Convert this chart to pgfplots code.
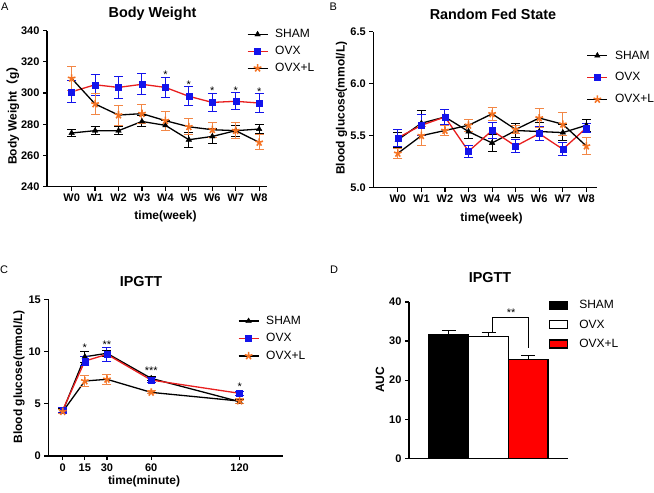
\documentclass[border=0pt]{standalone}
\usepackage{pgfplots}
\pgfplotsset{compat=1.18}
\usepackage{fontspec}
\setmainfont{Liberation Sans}
\newfontfamily\cjk{Noto Sans CJK SC}
\definecolor{cblue}{RGB}{20,20,235}
\definecolor{cred}{RGB}{232,30,30}
\definecolor{corange}{RGB}{245,115,35}
\definecolor{corangeb}{RGB}{242,135,70}
\pgfplotsset{
  panel/.style={
    scale only axis, anchor=south west,
    axis x line=bottom, axis y line=left,
    axis line style={line width=1.4pt,-},
    tick align=outside, major tick length=4pt,
    tick style={line width=1.2pt,black},
    tick label style={font=\fontsize{11}{13}\selectfont\bfseries},
    /pgf/number format/assume math mode=true,
    clip=false,
    legend cell align=left,
    legend image code/.code={\draw[mark repeat=2,mark phase=2,##1] plot coordinates {(0pt,0pt) (10pt,0pt) (20pt,0pt)};},
  },
  sham/.style={black, line width=1.3pt, mark=triangle*, mark size=3.2pt, mark options={solid,fill=black,line width=0.4pt},
    error bars/.cd, y dir=both, y explicit, error bar style={black,line width=1pt}, error mark options={rotate=90,black,mark size=4.5pt,line width=1pt}},
  ovx/.style={cred, line width=1.3pt, mark=square*, mark size=3pt, mark options={solid,draw=cblue,fill=cblue,line width=0.4pt},
    error bars/.cd, y dir=both, y explicit, error bar style={cblue,line width=1pt}, error mark options={rotate=90,cblue,mark size=4.5pt,line width=1pt}},
  ovxl/.style={black, line width=1.3pt, mark=star, mark size=4pt, mark options={solid,draw=corange,fill=corange,line width=1.6pt},
    error bars/.cd, y dir=both, y explicit, error bar style={corangeb,line width=1pt}, error mark options={rotate=90,corangeb,mark size=4.5pt,line width=1pt}},
}
\begin{document}
\begin{tikzpicture}[x=1pt,y=1pt]
\useasboundingbox (0,0) rectangle (654,493);
% ---------- Panel A ----------
\begin{axis}[panel, at={(47pt,306.3pt)}, width=219.7pt, height=156.1pt,
  xmin=-1.05, xmax=8.32, ymin=240, ymax=340, ytick={240,260,...,340},
  xtick={0,...,8}, xticklabels={W0,W1,W2,W3,W4,W5,W6,W7,W8},
  legend style={at={(axis description cs:0.910,1.020)}, anchor=north west, draw=none, fill=none,
    inner sep=0pt, outer sep=0pt, row sep=3pt, column sep=5pt, font=\fontsize{12}{14}\selectfont}]
\addplot[sham] table[row sep=\\, y error=e]{x y e\\ 0 274.4 2.5\\ 1 275.9 2.5\\ 2 275.9 2.5\\ 3 281.8 3.5\\ 4 279.3 3.2\\ 5 270.1 4.8\\ 6 272.2 4.8\\ 7 275.9 3.5\\ 8 276.9 2.9\\};
\addplot[ovx] table[row sep=\\, y error=e]{x y e\\ 0 300.8 7\\ 1 305.3 6.8\\ 2 303.6 7\\ 3 305.6 6.8\\ 4 303.6 6.4\\ 5 297.9 6.2\\ 6 294.0 5.8\\ 7 294.7 5.5\\ 8 293.6 5.9\\};
\addplot[ovxl] table[row sep=\\, y error=e]{x y e\\ 0 309.4 7.5\\ 1 293.0 7\\ 2 285.9 6.4\\ 3 286.8 6\\ 4 282.3 6\\ 5 278.4 5.2\\ 6 276.5 4.8\\ 7 275.9 5\\ 8 268.4 4.8\\};
\legend{SHAM,OVX,OVX+L}
\node[font=\fontsize{11}{13}\selectfont] at (axis cs:4,311.5) {*};
\node[font=\fontsize{11}{13}\selectfont] at (axis cs:5,305.5) {*};
\node[font=\fontsize{11}{13}\selectfont] at (axis cs:6,301.2) {*};
\node[font=\fontsize{11}{13}\selectfont] at (axis cs:7,301.2) {*};
\node[font=\fontsize{11}{13}\selectfont] at (axis cs:8,300.8) {*};
\end{axis}
% ---------- Panel B ----------
\begin{axis}[panel, at={(373.3pt,305.3pt)}, width=223.7pt, height=156pt,
  xmin=-1.04, xmax=8.45, ymin=5.0, ymax=6.5, ytick={5.0,5.5,6.0,6.5},
  yticklabel style={/pgf/number format/.cd,fixed,fixed zerofill,precision=1},
  xtick={0,...,8}, xticklabels={W0,W1,W2,W3,W4,W5,W6,W7,W8},
  legend style={at={(axis description cs:0.954,0.891)}, anchor=north west, draw=none, fill=none,
    inner sep=0pt, outer sep=0pt, row sep=8pt, column sep=5pt, font=\fontsize{12}{14}\selectfont}]
\addplot[sham] table[row sep=\\, y error=e]{x y e\\ 0 5.46 0.07\\ 1 5.62 0.12\\ 2 5.68 0.07\\ 3 5.54 0.07\\ 4 5.43 0.08\\ 5 5.55 0.07\\ 6 5.54 0.09\\ 7 5.53 0.08\\ 8 5.60 0.06\\};
\addplot[ovx] table[row sep=\\, y error=e]{x y e\\ 0 5.48 0.08\\ 1 5.60 0.10\\ 2 5.68 0.07\\ 3 5.35 0.06\\ 4 5.55 0.08\\ 5 5.40 0.065\\ 6 5.52 0.07\\ 7 5.37 0.06\\ 8 5.575 0.045\\};
\addplot[ovxl] table[row sep=\\, y error=e]{x y e\\ 0 5.33 0.05\\ 1 5.50 0.09\\ 2 5.55 0.05\\ 3 5.60 0.06\\ 4 5.71 0.06\\ 5 5.56 0.04\\ 6 5.67 0.09\\ 7 5.61 0.11\\ 8 5.40 0.08\\};
\legend{SHAM,OVX,OVX+L}
\end{axis}
% ---------- Panel C ----------
\begin{axis}[panel, at={(48.3pt,37pt)}, width=235pt, height=156.7pt,
  xmin=-9.8, xmax=149.6, ymin=0, ymax=15, ytick={0,5,10,15},
  xtick={0,15,30,60,120},
  legend style={at={(axis description cs:0.807,0.905)}, anchor=north west, draw=none, fill=none,
    inner sep=0pt, outer sep=0pt, row sep=3.5pt, column sep=5pt, font=\fontsize{12}{14}\selectfont}]
\addplot[sham] table[row sep=\\, y error=e]{x y e\\ 0 4.3 0.2\\ 15 9.5 0.55\\ 30 9.83 0.3\\ 60 7.43 0.2\\ 120 5.2 0.2\\};
\addplot[ovx] table[row sep=\\, y error=e]{x y e\\ 0 4.4 0.2\\ 15 9.09 0.45\\ 30 9.73 0.64\\ 60 7.27 0.2\\ 120 6.0 0.2\\};
\addplot[ovxl] table[row sep=\\, y error=e]{x y e\\ 0 4.25 0.2\\ 15 7.18 0.5\\ 30 7.34 0.46\\ 60 6.09 0.15\\ 120 5.26 0.2\\};
\legend{SHAM,OVX,OVX+L}
\node[font=\fontsize{11}{13}\selectfont] at (axis cs:15,10.4) {*};
\node[font=\fontsize{11}{13}\selectfont] at (axis cs:30,10.7) {**};
\node[font=\fontsize{11}{13}\selectfont] at (axis cs:60,8.2) {***};
\node[font=\fontsize{11}{13}\selectfont] at (axis cs:120,6.6) {*};
\end{axis}
% ---------- Panel D ----------
\begin{axis}[panel, at={(409pt,34.7pt)}, width=159pt, height=156.3pt,
  xmin=0, xmax=4, ymin=0, ymax=40, ytick={0,10,20,30,40}, xtick=\empty,
  ybar, bar width=1, bar shift=0pt,
  legend image code/.code={\draw[#1,line width=1.2pt] (0pt,-4pt) rectangle (18pt,4pt);},
  legend style={at={(axis description cs:0.881,1.024)}, anchor=north west, draw=none, fill=none,
    inner sep=0pt, outer sep=0pt, row sep=5.5pt, column sep=9pt, font=\fontsize{12}{14}\selectfont}]
\addplot[draw=black, line width=1.3pt, fill=black, error bars/.cd, y dir=plus, y explicit, error bar style={black,line width=1.2pt}, error mark options={rotate=90,black,mark size=7pt,line width=1.2pt}]
  coordinates {(1,31.6) +- (0,1.1)};
\addplot[draw=black, line width=1.3pt, fill=white, error bars/.cd, y dir=plus, y explicit, error bar style={black,line width=1.2pt}, error mark options={rotate=90,black,mark size=7pt,line width=1.2pt}]
  coordinates {(2,31.1) +- (0,1.1)};
\addplot[draw=black, line width=1.3pt, fill=red, error bars/.cd, y dir=plus, y explicit, error bar style={black,line width=1.2pt}, error mark options={rotate=90,black,mark size=7pt,line width=1.2pt}]
  coordinates {(3,25.3) +- (0,1.1)};
\legend{SHAM,OVX,OVX+L}
\draw[line width=1pt] (axis cs:2.1,32.15) -- (axis cs:2.1,36) -- (axis cs:3,36) -- (axis cs:3,28.1);
\node[font=\fontsize{11}{13}\selectfont] at (axis cs:2.57,37.3) {**};
\end{axis}
% ---------- Titles and labels ----------
\node[font=\fontsize{14.4}{16}\selectfont\bfseries] at (152.5,478.8) {Body Weight};
\node[font=\fontsize{14.4}{16}\selectfont\bfseries] at (493,479) {Random Fed State};
\node[font=\fontsize{14.4}{16}\selectfont\bfseries] at (141,211.5) {IPGTT};
\node[font=\fontsize{14.4}{16}\selectfont\bfseries] at (490,215.5) {IPGTT};
\node[font=\fontsize{11}{13}\selectfont, anchor=west, inner sep=0pt] at (1,486.3) {A};
\node[font=\fontsize{11}{13}\selectfont, anchor=west, inner sep=0pt] at (329.5,486.7) {B};
\node[font=\fontsize{11}{13}\selectfont, anchor=west, inner sep=0pt] at (0,223) {C};
\node[font=\fontsize{11}{13}\selectfont, anchor=west, inner sep=0pt] at (330,223) {D};
\node[font=\fontsize{12}{14}\selectfont\bfseries] at (165.5,277) {time(week)};
\node[font=\fontsize{12}{14}\selectfont\bfseries] at (491.5,275) {time(week)};
\node[font=\fontsize{12}{14}\selectfont\bfseries] at (144,11.3) {time(minute)};
\node[font=\fontsize{12}{14}\selectfont\bfseries, rotate=90] at (12.8,380.5) {Body Weight{\cjk （}g{\cjk ）}};
\node[font=\fontsize{12}{14}\selectfont\bfseries, rotate=90] at (341.5,384.7) {Blood glucose(mmol/L)};
\node[font=\fontsize{12}{14}\selectfont\bfseries, rotate=90] at (19,116.3) {Blood glucose(mmol/L)};
\node[font=\fontsize{12}{14}\selectfont\bfseries, rotate=90] at (380,113) {AUC};
\end{tikzpicture}
\end{document}
